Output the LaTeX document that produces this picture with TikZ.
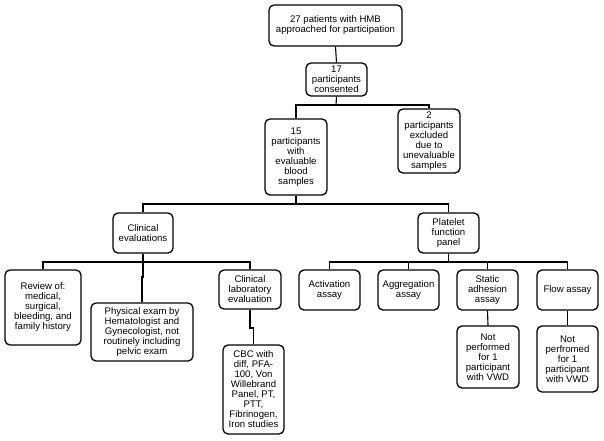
\documentclass[tikz,border=0pt]{standalone}
\usepackage{fontspec}
\setmainfont{Liberation Sans}
\begin{document}
\begin{tikzpicture}[x=1pt,y=-1pt,
  box/.style={draw=black, line width=1.3pt, rounded corners=5pt, align=center,
    inner sep=0pt, font=\fontsize{9.6}{10}\selectfont},
  conn/.style={draw=black, line width=1.1pt}]
\useasboundingbox (0,0) rectangle (604,440);
\fill[white] (0,0) rectangle (604,440);
% nodes
\node[box, minimum width=133pt, minimum height=41pt] (top) at (335.5,25.5) {27 patients with HMB\\approached for participation};
\node[box, minimum width=61pt, minimum height=33pt] (c17) at (336.5,79.5) {17\\participants\\consented};
\node[box, minimum width=62pt, minimum height=76pt] (c15) at (296,157) {15\\participants\\with\\evaluable\\blood\\samples};
\node[box, minimum width=62pt, minimum height=64pt] (c2) at (429,141) {2\\participants\\excluded\\due to\\unevaluable\\samples};
\node[box, minimum width=60pt, minimum height=40pt] (clin) at (143,233) {Clinical\\evaluations};
\node[box, minimum width=61pt, minimum height=40pt] (plat) at (448.5,233) {Platelet\\function\\panel};
\node[box, minimum width=76pt, minimum height=75pt] (review) at (43,307.5) {Review of:\\medical,\\surgical,\\bleeding, and\\family history};
\node[box, minimum width=102pt, minimum height=58pt] (phys) at (142,332) {Physical exam by\\Hematologist and\\Gynecologist, not\\routinely including\\pelvic exam};
\node[box, minimum width=62pt, minimum height=39pt] (lab) at (250,289.5) {Clinical\\laboratory\\evaluation};
\node[box, minimum width=61pt, minimum height=89pt] (cbc) at (253.5,389.5) {CBC with\\diff, PFA-\\100, Von\\Willebrand\\Panel, PT,\\PTT,\\Fibrinogen,\\Iron studies};
\node[box, minimum width=61pt, minimum height=40pt] (act) at (329.5,290) {Activation\\assay};
\node[box, minimum width=61pt, minimum height=40pt] (agg) at (408.5,290) {Aggregation\\assay};
\node[box, minimum width=61pt, minimum height=40pt] (stat) at (487.5,290) {Static\\adhesion\\assay};
\node[box, minimum width=61pt, minimum height=40pt] (flow) at (567.5,290) {Flow assay};
\node[box, minimum width=62pt, minimum height=62pt] (np1) at (488,357) {Not\\performed\\for 1\\participant\\with VWD};
\node[box, minimum width=61pt, minimum height=66pt] (np2) at (567.5,359) {Not\\perfromed\\for 1\\participant\\with VWD};
% junctions
\coordinate (j1) at (336,105);
\coordinate (j2) at (296,204);
\coordinate (j3) at (143,262);
\coordinate (k1) at (143,277);
\coordinate (k2) at (250,328);
\coordinate (j4) at (448.5,262);
% connectors
\draw[conn] (top.south) -- (c17.north);
\draw[conn] (c17.south) -- (j1);
\draw[conn] (c15.north) |- (j1) -| (c2.north);
\draw[conn] (c15.south) -- (j2);
\draw[conn] (clin.north) |- (j2) -| (plat.north);
\draw[conn] (clin.south) -- (j3);
\draw[conn] (review.north) |- (j3) -| (lab.north);
\draw[conn] (j3) -- (k1) -| (phys.north);
\draw[conn] (lab.south) -- (k2) -| (cbc.north);
\draw[conn] (plat.south) -- (j4);
\draw[conn] (act.north) |- (j4) -| (flow.north);
\draw[conn] (agg.north) -- (agg.north |- j4);
\draw[conn] (stat.north) -- (stat.north |- j4);
\draw[conn] (stat.south) -- (np1.north);
\draw[conn] (flow.south) -- (np2.north);
\end{tikzpicture}
\end{document}
